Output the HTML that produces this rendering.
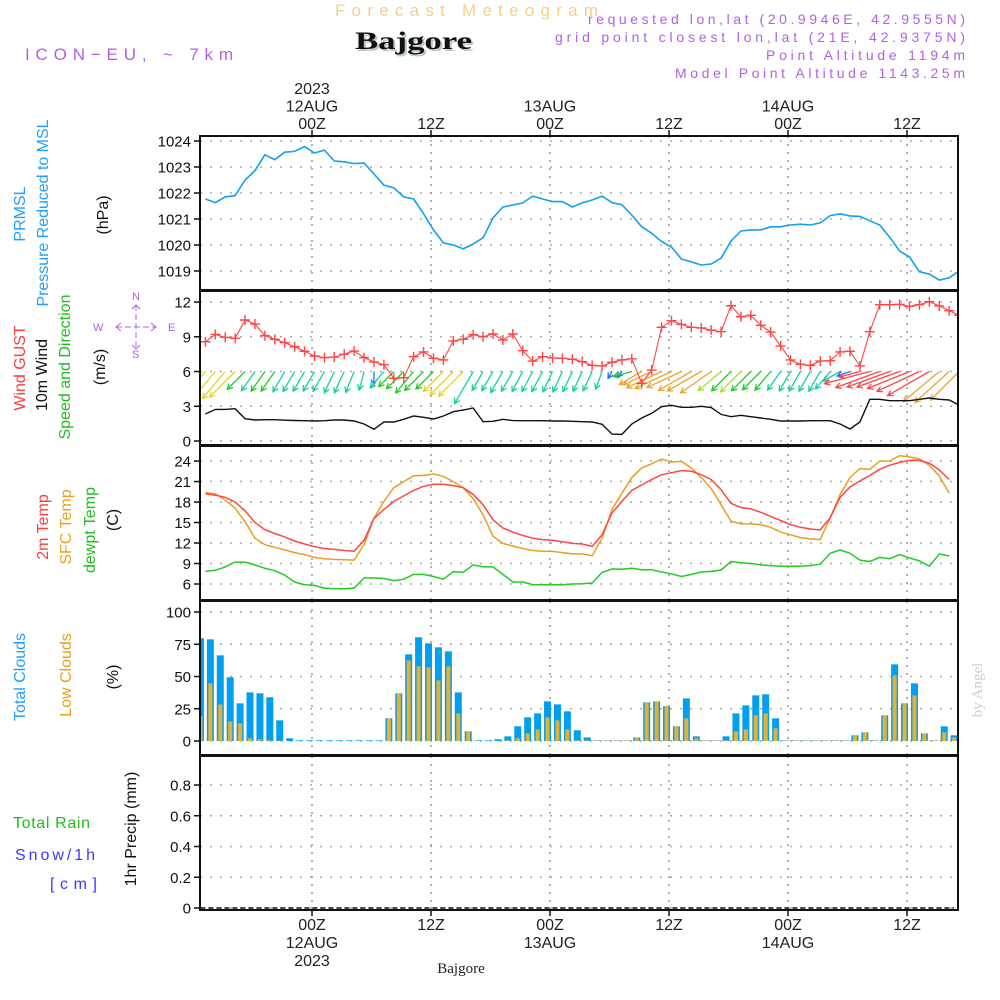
<!DOCTYPE html>
<html><head><meta charset="utf-8"><style>
html,body{margin:0;padding:0;background:#fff;}
svg{display:block;font-family:"Liberation Sans",sans-serif;}
</style></head><body>
<svg id="chart" xmlns="http://www.w3.org/2000/svg" width="1000" height="1000" viewBox="0 0 1000 1000">
<defs>
<clipPath id="cp1"><rect x="200" y="136" width="758" height="154"/></clipPath>
<clipPath id="cp2"><rect x="200" y="291" width="758" height="154"/></clipPath>
<clipPath id="cp3"><rect x="200" y="446" width="758" height="154"/></clipPath>
<clipPath id="cp4"><rect x="200" y="601" width="758" height="154"/></clipPath>
<clipPath id="cp5"><rect x="200" y="756" width="758" height="154"/></clipPath>
</defs>
<!-- header -->
<text x="335" y="16" font-size="17" fill="#f6cf8e" textLength="263" lengthAdjust="spacing">Forecast Meteogram</text>
<text x="357" y="51" font-family="Liberation Serif,serif" font-weight="bold" font-size="25" fill="#b9cbb9" textLength="117" lengthAdjust="spacingAndGlyphs">Bajgore</text>
<text x="355" y="49" font-family="Liberation Serif,serif" font-weight="bold" font-size="25" fill="#111" textLength="117" lengthAdjust="spacingAndGlyphs">Bajgore</text>
<text x="25" y="60" font-size="17" fill="#b060e8" textLength="208" lengthAdjust="spacing">ICON−EU, ~ 7km</text>
<g font-size="14" fill="#b060e8" text-anchor="end">
<text x="965" y="24" textLength="377" lengthAdjust="spacing">requested lon,lat (20.9946E, 42.9555N)</text>
<text x="965" y="42" textLength="410" lengthAdjust="spacing">grid point closest lon,lat (21E, 42.9375N)</text>
<text x="965" y="60" textLength="199" lengthAdjust="spacing">Point Altitude 1194m</text>
<text x="965" y="78" textLength="290" lengthAdjust="spacing">Model Point Altitude 1143.25m</text>
</g>
<!-- left titles -->
<g font-size="16">
<text fill="#1e9fff" text-anchor="middle" transform="translate(25,214) rotate(-90)">PRMSL</text>
<text fill="#1e9fff" text-anchor="middle" transform="translate(48,213) rotate(-90)" textLength="187" lengthAdjust="spacing">Pressure Reduced to MSL</text>
<text fill="#111" text-anchor="middle" transform="translate(108,215) rotate(-90)">(hPa)</text>
<text fill="#ff3b3b" text-anchor="middle" transform="translate(25,368) rotate(-90)">Wind GUST</text>
<text fill="#111" text-anchor="middle" transform="translate(47,375) rotate(-90)">10m Wind</text>
<text fill="#22bb22" text-anchor="middle" transform="translate(70,367) rotate(-90)" textLength="145" lengthAdjust="spacing">Speed and Direction</text>
<text fill="#111" text-anchor="middle" transform="translate(105,367) rotate(-90)">(m/s)</text>
<text fill="#ff3b3b" text-anchor="middle" transform="translate(48,527) rotate(-90)">2m Temp</text>
<text fill="#e8a020" text-anchor="middle" transform="translate(71,527) rotate(-90)">SFC Temp</text>
<text fill="#22bb22" text-anchor="middle" transform="translate(95,530) rotate(-90)">dewpt Temp</text>
<text fill="#111" text-anchor="middle" transform="translate(118,520) rotate(-90)">(C)</text>
<text fill="#1e9fff" text-anchor="middle" transform="translate(25,677) rotate(-90)">Total Clouds</text>
<text fill="#e8a020" text-anchor="middle" transform="translate(71,675) rotate(-90)">Low Clouds</text>
<text fill="#111" text-anchor="middle" transform="translate(118,677) rotate(-90)">(%)</text>
<text fill="#111" text-anchor="middle" transform="translate(136,829) rotate(-90)">1hr Precip (mm)</text>
<text x="13" y="828" fill="#22bb22" textLength="77" lengthAdjust="spacing">Total  Rain</text>
<text x="15" y="860" fill="#3a3aff" textLength="80" lengthAdjust="spacing">Snow/1h</text>
<text x="50" y="889" fill="#3a3aff" textLength="47" lengthAdjust="spacing">[cm]</text>
</g>
<!-- compass -->
<g fill="#b060e8" stroke="#b060e8" font-size="11">
<text x="132" y="300" stroke="none">N</text>
<text x="132" y="358" stroke="none">S</text>
<text x="93" y="331" stroke="none">W</text>
<text x="168" y="331" stroke="none">E</text>
<line x1="116" y1="327" x2="156" y2="327" stroke-dasharray="6,3" fill="none"/>
<line x1="136" y1="305" x2="136" y2="349" stroke-dasharray="6,3" fill="none"/>
<polyline points="121,323 116,327 121,331" fill="none"/>
<polyline points="151,323 156,327 151,331" fill="none"/>
<polyline points="132,309 136,305 140,309" fill="none"/>
<polyline points="132,345 136,349 140,345" fill="none"/>
</g>
<text font-family="Liberation Serif,serif" font-size="15" fill="#cccccc" text-anchor="middle" transform="translate(982,690) rotate(-90)">by Angel</text>
<g id="grid"></g>
<g id="marks"></g>
<g id="frames"></g>
</svg>
<script>
// ---- data (hourly) ----
const timeTicks = [0, 12, 24, 36, 48, 60];
const topLabels = [["2023","12AUG","00Z"],["","","12Z"],["","13AUG","00Z"],["","","12Z"],["","14AUG","00Z"],["","","12Z"]];
const bottomLabels = [["00Z","12AUG","2023"],["12Z","",""],["00Z","13AUG",""],["12Z","",""],["00Z","14AUG",""],["12Z","",""]];
const lineStartHour = -10.75;
const barStartHour = -11.25;

const pressureTicks = [1019,1020,1021,1022,1023,1024];
const pressure = [1021.77,1021.63,1021.85,1021.9,1022.5,1022.86,1023.47,1023.28,1023.57,1023.6,1023.78,1023.54,1023.65,1023.23,1023.2,1023.13,1023.15,1022.73,1022.3,1022.2,1021.85,1021.77,1021.2,1020.58,1020.08,1020.0,1019.85,1020.04,1020.28,1021.04,1021.46,1021.54,1021.62,1021.88,1021.77,1021.67,1021.67,1021.46,1021.62,1021.73,1021.88,1021.63,1021.55,1021.15,1020.7,1020.45,1020.13,1019.92,1019.46,1019.35,1019.23,1019.27,1019.5,1020.15,1020.54,1020.58,1020.58,1020.7,1020.7,1020.77,1020.8,1020.77,1020.85,1021.13,1021.2,1021.12,1021.1,1020.93,1020.77,1020.3,1019.77,1019.54,1018.97,1018.88,1018.65,1018.74,1019.0];

const windTicks = [0,3,6,9,12];
const gust = [8.57,9.2,8.95,8.87,10.45,10.1,9.1,8.78,8.49,8.14,7.75,7.34,7.2,7.25,7.5,7.77,7.2,6.82,6.59,5.41,5.47,7.28,7.69,7.14,7.0,8.64,8.78,9.18,9.0,9.24,8.72,9.24,7.8,6.9,7.28,7.17,7.14,7.06,6.85,6.53,6.48,6.8,7.0,7.1,4.98,6.13,9.82,10.39,10.07,9.82,9.76,9.58,9.44,11.68,10.73,10.85,9.99,9.41,8.2,7.0,6.62,6.53,6.9,6.93,7.69,7.75,6.48,9.44,11.77,11.77,11.8,11.63,11.77,12.03,11.66,11.25,10.85];
const windSpeed = [2.33,2.73,2.73,2.79,1.93,1.81,1.84,1.84,1.8,1.77,1.75,1.73,1.75,1.81,1.81,1.73,1.47,1.01,1.64,1.64,1.87,2.16,2.05,1.9,2.16,2.53,2.68,2.85,1.67,1.7,1.87,1.76,1.75,1.75,1.75,1.73,1.73,1.7,1.67,1.64,1.44,0.6,0.57,1.47,1.99,2.39,2.96,3.08,2.91,2.91,3.0,2.88,2.3,2.1,2.22,2.1,1.99,1.87,1.73,1.73,1.73,1.75,1.75,1.75,1.47,1.04,1.64,3.6,3.6,3.48,3.48,3.48,3.6,3.71,3.6,3.54,3.1];
const windDir = [40,40,40,45,45,35,35,35,30,30,30,30,30,25,25,22,15,0,40,45,45,40,45,45,45,45,45,30,30,30,30,30,28,28,28,25,25,25,25,25,20,30,40,75,60,65,65,65,65,60,60,55,50,45,45,45,45,40,35,30,30,30,30,40,60,70,75,75,70,70,70,68,65,60,50,48,45];
const windColorKey = ["Y","Y","Y","Y","G","T","G","G","T","T","T","T","T","T","T","T","T","B","T","G","G","G","G","G","Y","Y","Y","T","T","T","T","T","T","T","T","T","T","T","T","T","T","B","B","G","O","O","O","O","O","O","O","O","L","G","L","G","G","G","T","T","T","T","T","T","T","B","R","R","R","R","R","R","R","R","O","O","O"];

const tempTicks = [6,9,12,15,18,21,24];
const temp2m = [19.2,19.0,18.7,18.0,16.7,15.0,13.95,13.4,12.9,12.3,11.85,11.46,11.2,11.07,10.9,10.8,12.4,15.6,16.9,18.1,18.9,19.7,20.3,20.6,20.6,20.4,20.1,19.1,17.6,15.4,14.2,13.6,13.1,12.7,12.5,12.4,12.2,11.95,11.85,11.5,13.2,16.4,18.1,19.7,20.5,21.3,22.0,22.3,22.6,22.5,22.0,21.3,19.8,17.8,17.2,17.0,16.5,15.9,15.3,14.7,14.3,14.05,13.9,15.7,18.7,20.2,21.1,21.9,22.8,23.4,23.8,24.1,24.1,23.7,22.7,21.3];
const tempSfc = [19.4,19.2,18.3,17.1,15.1,12.7,11.75,11.37,11.0,10.6,10.3,9.9,9.7,9.6,9.56,9.5,11.75,15.66,18.1,20.1,21.0,21.85,21.9,22.1,21.75,21.0,20.1,18.5,16.1,13.0,11.95,11.56,11.2,10.9,10.8,10.78,10.6,10.4,10.4,10.15,12.7,16.9,19.3,21.6,23.0,23.6,24.3,23.85,23.95,23.0,21.6,20.0,17.6,15.2,14.8,14.8,14.7,14.3,13.6,13.2,12.8,12.6,12.5,15.7,19.1,21.6,22.9,22.8,24.0,24.0,24.8,24.6,24.3,23.4,21.8,19.3];
const dewpoint = [7.85,8.0,8.5,9.2,9.2,8.8,8.3,7.95,7.3,6.3,5.9,5.8,5.4,5.3,5.3,5.4,6.9,6.9,6.8,6.5,6.7,7.4,7.4,7.1,6.7,7.8,7.7,8.8,8.5,8.5,7.4,6.3,6.3,5.9,5.9,5.9,5.9,6.0,6.05,6.15,7.7,8.2,8.15,8.3,8.1,8.1,7.75,7.5,7.1,7.4,7.75,7.85,8.05,9.3,9.1,9.0,8.8,8.7,8.6,8.6,8.6,8.7,8.9,10.5,11.0,10.5,9.5,9.3,9.9,9.7,10.3,9.8,9.4,8.6,10.4,10.1];

const cloudTicks = [0,25,50,75,100];
const totalClouds = [79.6,78.8,66.4,49.4,29.2,37.7,37.0,33.9,16.0,2.1,0.5,0.5,0.5,0.5,0.5,0.5,0.5,0.5,0.5,17.6,37,67.2,80.4,75.7,72.6,69.5,37.7,7.5,0.5,0.5,1.3,3.6,11.4,18.3,21.4,30.7,28.4,23,8.3,2.8,0.5,0.5,0.5,0.5,2.8,30,30.7,26.9,11.4,33,3.6,0.5,0.5,3.6,21.4,27.6,35.4,36.2,17.6,0.5,0.5,0.5,0.5,0.5,0.5,0.5,4.4,6.7,0.5,19.9,59.4,29.2,44.7,5.9,0.5,11.4,4.4];
const lowClouds = [19.4,44.7,28.4,15.2,13.7,2.1,1.3,0.5,0.3,0,0,0,0,0,0,0,0,0,0,17.6,37,62.5,57.9,57.1,47,57.9,21.4,7.5,0,0,0,0.5,2.1,5.9,9,18.3,16,9,0.5,0.5,0.5,0.5,0.5,0.5,2.8,30,30.7,26.9,11.4,17.6,2.1,0.5,0.5,0.5,7.5,9,19.9,21.4,9.8,0.5,0.5,0.5,0.5,0.5,0.5,0.5,4.4,6.7,0.5,19.9,50.9,29.2,35.4,5.9,0.5,6.7,2.8];

const precipTicks = [0,0.2,0.4,0.6,0.8];
const precip = [0,0,0,0,0,0,0,0,0,0,0,0,0,0,0,0,0,0,0,0,0,0,0,0,0,0,0,0,0,0,0,0,0,0,0,0,0,0,0,0,0,0,0,0,0,0,0,0,0,0,0,0,0,0,0,0,0,0,0,0,0,0,0,0,0,0,0,0,0,0,0,0,0,0,0,0,0];

// ---- scales ----
const NS = "http://www.w3.org/2000/svg";
const X0 = 200, X1 = 958;
function xScale(h){ return 312 + h * 9.917; }
const panels = [
  {top:136, bottom:290, clip:"cp1"},
  {top:291, bottom:445, clip:"cp2"},
  {top:446, bottom:600, clip:"cp3"},
  {top:601, bottom:755, clip:"cp4"},
  {top:756, bottom:910, clip:"cp5"}
];
function yP(v){ return 271 - (v - 1019) * 26; }
function yW(v){ return 441 - v * 11.58; }
function yT(v){ return 584 - (v - 6) * 6.83; }
function yC(v){ return 741 - v * 1.29; }
function yR(v){ return 908 - v * 153.75; }
function mk(tag, attrs, parent){
  const e = document.createElementNS(NS, tag);
  for (const k in attrs) e.setAttribute(k, attrs[k]);
  parent.appendChild(e);
  return e;
}
const grid = document.getElementById("grid");
const marks = document.getElementById("marks");
const frames = document.getElementById("frames");

// ---- grid & ticks ----
const axisDefs = [
  {ticks:pressureTicks, y:yP, p:0, fmt:v=>String(v)},
  {ticks:windTicks, y:yW, p:1, fmt:v=>String(v)},
  {ticks:tempTicks, y:yT, p:2, fmt:v=>String(v)},
  {ticks:cloudTicks, y:yC, p:3, fmt:v=>String(v)},
  {ticks:precipTicks, y:yR, p:4, fmt:v=>v===0?"0":v.toFixed(1)}
];
axisDefs.forEach(a => {
  a.ticks.forEach(v => {
    const y = a.y(v);
    const gl = mk("line", {x1:X0, x2:X1, y1:y, y2:y, stroke:"#aaaaaa", "stroke-width":1.5, "stroke-dasharray":"2,8"}, grid);
    
    
    const tk = mk("line", {x1:X0-6, x2:X0, y1:y, y2:y, stroke:"#111", "stroke-width":1.5}, grid);
    
    
    const t = mk("text", {x:X0-9, y:y+5.5, "text-anchor":"end", "font-size":15, fill:"#111"}, grid);
    t.textContent = a.fmt(v);
    
    
  });
});
timeTicks.forEach((h, i) => {
  const x = xScale(h);
  panels.forEach(p => {
    const vl = mk("line", {x1:x, x2:x, y1:p.top, y2:p.bottom, stroke:"#999999", "stroke-width":1.5, "stroke-dasharray":"2,6"}, grid);
    
    
  });
  const tt = mk("line", {x1:x, x2:x, y1:130, y2:136, stroke:"#111", "stroke-width":1.5}, grid);
  
  
  const bt = mk("line", {x1:x, x2:x, y1:910, y2:916, stroke:"#111", "stroke-width":1.5}, grid);
  
  
  topLabels[i].forEach((s, j) => {
    if (!s) return;
    const t = mk("text", {x:x, y:94 + j*17.5, "text-anchor":"middle", "font-size":16, fill:"#222"}, grid);
    t.textContent = s;
    
    
  });
  bottomLabels[i].forEach((s, j) => {
    if (!s) return;
    const t = mk("text", {x:x, y:930 + j*18, "text-anchor":"middle", "font-size":16, fill:"#222"}, grid);
    t.textContent = s;
    
    
  });
});
const stn = mk("text", {x:461, y:973, "text-anchor":"middle", "font-size":15, fill:"#222", "font-family":"Liberation Serif,serif"}, grid);
stn.textContent = "Bajgore";



// ---- series helpers ----
function linePath(arr, yf, startHour){
  return arr.map((v,i)=>(i?"L":"M")+xScale(startHour+i).toFixed(1)+","+yf(v).toFixed(1)).join(" ");
}
function panelGroup(idx, name){
  const g = mk("g", {"clip-path":"url(#"+panels[idx].clip+")"}, marks);
  
  
  return g;
}

// pressure
const g1 = panelGroup(0, "pressure-panel");
const pl = mk("path", {d:linePath(pressure, yP, lineStartHour), fill:"none", stroke:"#12a0f0", "stroke-width":1.6}, g1);



// wind
const g2 = panelGroup(1, "wind-panel");
const colorMap = {Y:"#e6d22e", G:"#22cc22", T:"#18cfa0", B:"#1e6fff", O:"#eba430", L:"#a8e030", R:"#ff4545"};
windSpeed.forEach((s, i) => {
  const x = xScale(lineStartHour + i), y = yW(6);
  const L = 13 * s;
  const rad = windDir[i] * Math.PI / 180;
  const dx = -Math.sin(rad) * L, dy = Math.cos(rad) * L;
  const tx = x + dx, ty = y + dy;
  const ang = Math.atan2(dy, dx);
  const h = 6;
  const c = colorMap[windColorKey[i]] || "#18cfa0";
  const p = mk("path", {d:"M"+x.toFixed(1)+","+y.toFixed(1)+" L"+tx.toFixed(1)+","+ty.toFixed(1)+
    " M"+(tx - h*Math.cos(ang-0.5)).toFixed(1)+","+(ty - h*Math.sin(ang-0.5)).toFixed(1)+" L"+tx.toFixed(1)+","+ty.toFixed(1)+
    " L"+(tx - h*Math.cos(ang+0.5)).toFixed(1)+","+(ty - h*Math.sin(ang+0.5)).toFixed(1),
    fill:"none", stroke:c, "stroke-width":1.3}, g2);
  
  
});
const wl = mk("path", {d:linePath(windSpeed, yW, lineStartHour), fill:"none", stroke:"#111", "stroke-width":1.4}, g2);


const gl = mk("path", {d:linePath(gust, yW, lineStartHour), fill:"none", stroke:"#ff4545", "stroke-width":1.1}, g2);


gust.forEach((v, i) => {
  const x = xScale(lineStartHour + i), y = yW(v);
  const m = mk("path", {d:"M"+(x-5)+","+y+" H"+(x+5)+" M"+x+","+(y-5)+" V"+(y+5), stroke:"#ff4545", "stroke-width":1.4}, g2);
  
  
});

// temperature
const g3 = panelGroup(2, "temperature-panel");
[[tempSfc,"#e8a020","sfc-temp-line"],[temp2m,"#ff4545","temp-2m-line"],[dewpoint,"#22cc22","dewpoint-line"]].forEach(s => {
  const p = mk("path", {d:linePath(s[0], yT, lineStartHour), fill:"none", stroke:s[1], "stroke-width":1.5}, g3);
  
  
});

// clouds
const g4 = panelGroup(3, "clouds-panel");
totalClouds.forEach((v, i) => {
  const x = xScale(barStartHour + i);
  const b = mk("rect", {x:x-3.5, y:yC(v), width:7, height:yC(0)-yC(v), fill:"#009ff0"}, g4);
  
  
});
lowClouds.forEach((v, i) => {
  const x = xScale(barStartHour + i);
  const b = mk("rect", {x:x-2, y:yC(v), width:4, height:yC(0)-yC(v), fill:"#e8b030"}, g4);
  
  
});

// precip
const g5 = panelGroup(4, "precip-panel");
const rl = mk("path", {d:linePath(precip, yR, barStartHour), fill:"none", stroke:"#111", "stroke-width":1.5, "stroke-dasharray":"5,3"}, g5);



// frames
panels.forEach((p, i) => {
  const r = mk("rect", {x:X0, y:p.top, width:X1-X0, height:p.bottom-p.top, fill:"none", stroke:"#111", "stroke-width":2}, frames);
  
  
});
</script>
</body></html>
